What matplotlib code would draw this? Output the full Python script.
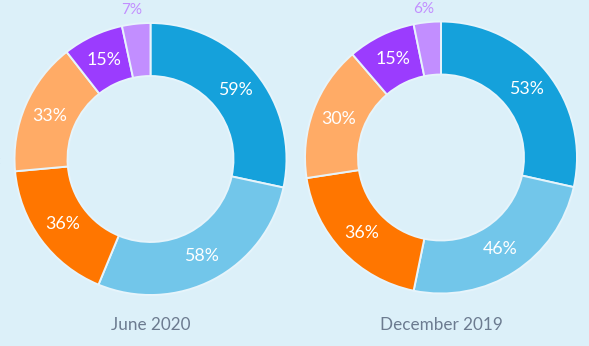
import math
import matplotlib
matplotlib.use("Agg")
import matplotlib.pyplot as plt

# data (percent labels, wedges drawn in proportion)
segments = ["seg1", "seg2", "seg3", "seg4", "seg5", "seg6"]
june_2020 = [59, 58, 36, 33, 15, 7]
dec_2019 = [53, 46, 36, 30, 15, 6]
titles = ["June 2020", "December 2019"]

colors = ["#15a1db", "#72c6ea", "#ff7600", "#ffab66", "#9b3cfe", "#c28eff"]
bg = "#dcf0f9"
W, H = 589, 346

plt.rcParams["font.family"] = ["Lato", "DejaVu Sans"]

fig = plt.figure(figsize=(W / 100, H / 100), dpi=100, facecolor=bg)

# donut centres / radius in pixels
centres = [(150.5, 159), (441, 157.5)]
R = 136

for vals, title, (cx, cy) in zip([june_2020, dec_2019], titles, centres):
    ax = fig.add_axes([(cx - R) / W, (H - cy - R) / H, 2 * R / W, 2 * R / H])
    ax.set_facecolor(bg)
    wedges, _ = ax.pie(vals, colors=colors, startangle=90, counterclock=False,
                       radius=1, wedgeprops=dict(width=0.39, edgecolor="#e6f4fb", linewidth=1.4))
    total = sum(vals)
    ang = 90.0
    for i, v in enumerate(vals):
        span = v / total * 360
        mid = math.radians(ang - span / 2)
        ang -= span
        if i == len(vals) - 1:
            # small slice: label sits outside, above the ring
            ax.text(1.10 * math.cos(mid) - 0.02, 1.10 * math.sin(mid), f"{v}%",
                    ha="center", va="center", color="#c28eff", fontsize=11)
        else:
            ax.text(0.805 * math.cos(mid), 0.805 * math.sin(mid), f"{v}%",
                    ha="center", va="center", color="white", fontsize=12.8)
    ax.set_xlim(-1, 1)
    ax.set_ylim(-1, 1)
    ax.set_aspect("auto")
    ax.axis("off")
    fig.text(cx / W, 1 - 325 / H, title, ha="center", va="center",
             color="#6c7b90", fontsize=12.3)

# clipped fragment at the left edge
fig.text(-0.004, 1 - 160 / H, ":", ha="left", va="center", color="#4f8ad0", fontsize=8)

fig.savefig("out.png", dpi=100, facecolor=bg)
